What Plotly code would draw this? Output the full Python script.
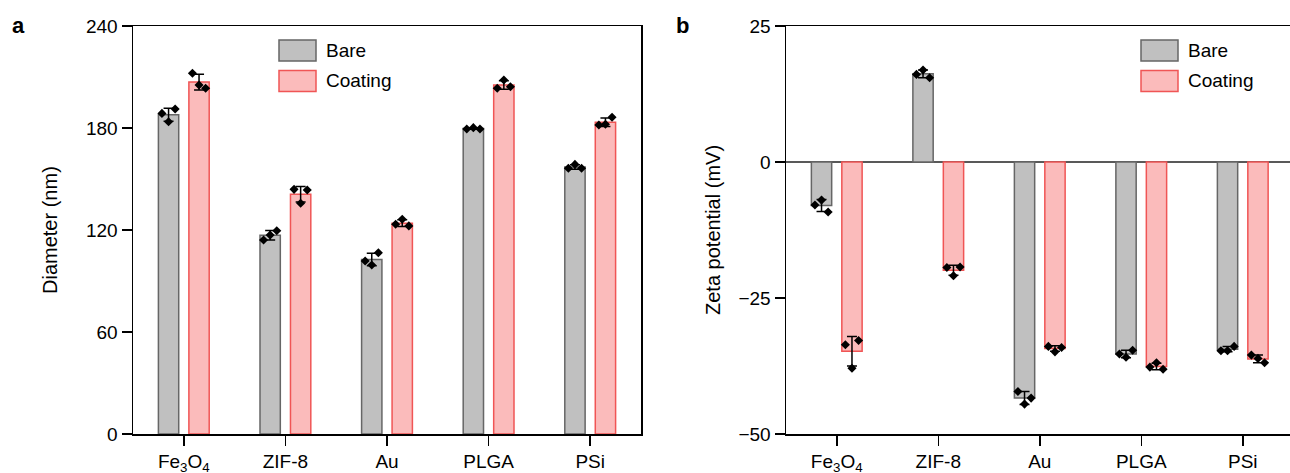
import plotly.graph_objects as go

# ---------------- data ----------------
categories = ["Fe<sub>3</sub>O<sub>4</sub>", "ZIF-8", "Au", "PLGA", "PSi"]
series_names = ["Bare", "Coating"]

# Panel a: diameter (nm)
diam_bare_mean = [187.8, 116.9, 102.6, 179.7, 157.1]
diam_bare_sd = [3.8, 2.8, 3.7, 0.5, 1.3]
diam_bare_reps = [[188.6, 183.7, 191.2], [114.1, 117.1, 119.6], [101.8, 99.4, 106.6],
                  [179.4, 180.2, 179.4], [156.3, 158.6, 156.3]]
diam_coat_mean = [207.0, 141.0, 124.0, 205.3, 183.4]
diam_coat_sd = [4.6, 4.6, 2.0, 2.5, 2.5]
diam_coat_reps = [[212.2, 205.3, 203.4], [143.9, 135.7, 143.5], [123.4, 126.3, 122.4],
                  [203.4, 208.2, 204.3], [181.8, 182.2, 186.3]]

# Panel b: zeta potential (mV)
zeta_bare_mean = [-8.0, 16.2, -43.4, -35.3, -34.4]
zeta_bare_sd = [1.1, 0.7, 1.2, 0.7, 0.5]
zeta_bare_reps = [[-7.9, -7.0, -9.2], [16.1, 16.9, 15.5], [-42.2, -44.5, -43.4],
                  [-35.3, -35.9, -34.6], [-34.7, -34.7, -33.9]]
zeta_coat_mean = [-34.8, -19.9, -34.3, -37.6, -36.2]
zeta_coat_sd = [2.7, 0.9, 0.5, 0.6, 0.7]
zeta_coat_reps = [[-33.6, -37.9, -32.8], [-19.4, -20.9, -19.3], [-33.9, -34.9, -34.1],
                  [-37.7, -36.9, -38.1], [-35.5, -36.1, -36.9]]

diam_ticks = [0, 60, 120, 180, 240]
zeta_ticks = [-50, -25, 0, 25]

# ---------------- style ----------------
FONT = "Liberation Sans, Arial, sans-serif"
FS = 19
fills = ["#c0c0c0", "#fbbbbb"]
borders = ["#666666", "#f05555"]
BAR_W = 0.2
offsets = [-0.25, 0.05]
jitter = [-0.065, 0.0, 0.065]
W, H = 1290, 473

fig = go.Figure()
xidx = list(range(len(categories)))

def add_panel(means_list, sds_list, reps_list, xa, ya):
    for s in range(2):
        fig.add_trace(go.Bar(
            x=xidx, y=means_list[s], width=BAR_W, offset=offsets[s],
            marker=dict(color=fills[s], line=dict(color=borders[s], width=1.5)),
            error_y=dict(type="data", array=sds_list[s], visible=True,
                         color="black", thickness=1.5, width=5),
            name=series_names[s], showlegend=False, xaxis=xa, yaxis=ya))
    for s in range(2):
        px, py = [], []
        for i, reps in enumerate(reps_list[s]):
            c = i + offsets[s] + BAR_W / 2
            for j, v in enumerate(reps):
                px.append(c + jitter[j])
                py.append(v)
        fig.add_trace(go.Scatter(
            x=px, y=py, mode="markers",
            marker=dict(symbol="diamond", size=7, color="black"),
            showlegend=False, xaxis=xa, yaxis=ya, cliponaxis=False))

add_panel([diam_bare_mean, diam_coat_mean], [diam_bare_sd, diam_coat_sd],
          [diam_bare_reps, diam_coat_reps], "x", "y")
add_panel([zeta_bare_mean, zeta_coat_mean], [zeta_bare_sd, zeta_coat_sd],
          [zeta_bare_reps, zeta_coat_reps], "x2", "y2")

ydom = [1 - 434 / H, 1 - 26 / H]
axis_common = dict(showline=True, linecolor="black", linewidth=1.5, ticks="outside",
                   ticklen=10, tickwidth=1.5, tickcolor="black", showgrid=False,
                   zeroline=False, automargin=False,
                   tickfont=dict(family=FONT, size=FS, color="black"))

fig.update_layout(
    width=W, height=H, margin=dict(l=0, r=0, t=0, b=0, pad=0), autosize=False,
    paper_bgcolor="white", plot_bgcolor="white", barmode="overlay",
    font=dict(family=FONT, size=FS, color="black"),
    xaxis=dict(domain=[133 / W, 641 / W], range=[-0.5, 4.5], tickvals=xidx,
               ticktext=categories, mirror=True, anchor="y", **axis_common),
    yaxis=dict(domain=ydom, range=[0, 240], tickvals=diam_ticks, mirror=True,
               anchor="x", **axis_common),
    xaxis2=dict(domain=[786 / W, 1.0], range=[-0.5, -0.5 + (W - 786) / 101.5],
                tickvals=xidx, ticktext=categories, mirror=True, anchor="y2",
                **axis_common),
    yaxis2=dict(domain=ydom, range=[-50, 25], tickvals=zeta_ticks, mirror=False,
                anchor="x2", **axis_common),
)
# zero line in panel b
fig.add_shape(type="line", xref="x2 domain", yref="y2", x0=0, x1=1, y0=0, y1=0,
              line=dict(color="#222222", width=1.5), layer="below")

def label(x, y, text, size, angle=0, xanchor="center"):
    fig.add_annotation(x=x / W, y=1 - y / H, xref="paper", yref="paper", text=text,
                       textangle=angle, showarrow=False, xanchor=xanchor,
                       yanchor="middle", font=dict(family=FONT, size=size, color="black"))

mid = (26 + 434) / 2
label(50, mid, "Diameter (nm)", 20, angle=-90)
label(713, mid, "Zeta potential (mV)", 20, angle=-90)
label(18, 25, "<b>a</b>", 22)
label(682, 25, "<b>b</b>", 22)

# custom legends
for (bx0, tx) in [(279, 324), (1141, 1186)]:
    for s, (y0, y1) in enumerate([(40, 61), (70.5, 91.5)]):
        fig.add_shape(type="rect", xref="paper", yref="paper",
                      x0=bx0 / W, x1=(bx0 + 37) / W, y0=1 - y1 / H, y1=1 - y0 / H,
                      fillcolor=fills[s], line=dict(color=borders[s], width=1.5))
        label(tx, (y0 + y1) / 2, series_names[s], FS, xanchor="left")

fig.write_html(
    "out.html",
    config={"displayModeBar": False, "staticPlot": True},
    post_script="document.body.style.margin='0';document.body.style.overflow='hidden';",
)
